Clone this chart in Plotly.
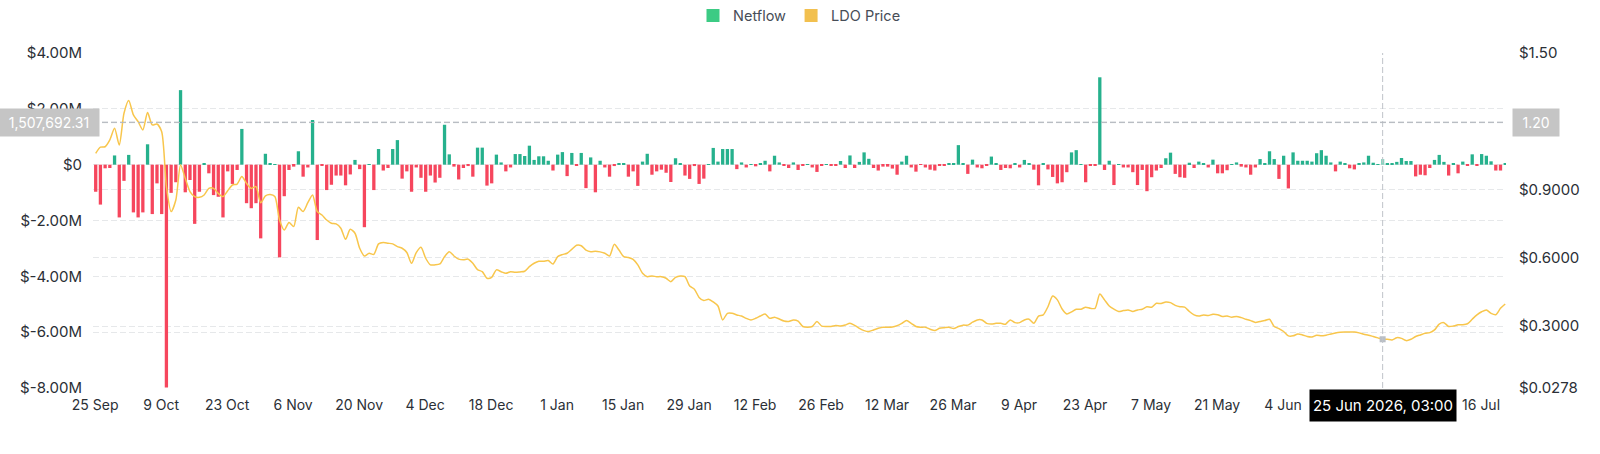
import plotly.graph_objects as go
import pandas as pd
import numpy as np

# ---------------- data ----------------
start_date = "2025-09-25 03:00"
n_days = 300

netflow_m = [
    -0.97, -1.43, -0.13, -0.12, 0.33, -1.89, -0.58, 0.35, -1.71, -1.89,
    -1.71, 0.73, -1.77, -0.67, -1.77, -7.98, -1.01, -0.63, 2.67, -0.99,
    -0.55, -2.12, -0.97, 0.04, -0.31, -1.09, -1.15, -1.89, -0.24, -0.69,
    -0.19, 1.28, -1.38, -1.56, -1.38, -2.64, 0.39, 0.06, 0.02, -3.32,
    -1.13, -0.19, -0.07, 0.48, -0.43, -0.10, 1.60, -2.70, -0.02, -0.91,
    -0.72, -0.39, -0.39, -0.74, -0.35, 0.17, -0.16, -2.24, 0.01, -0.91,
    0.56, -0.21, -0.12, 0.56, 0.88, -0.50, -0.24, -0.97, -0.10, -0.47,
    -0.97, -0.39, -0.64, -0.47, 1.43, 0.37, -0.07, -0.53, -0.12, -0.05,
    -0.43, 0.61, 0.61, -0.75, -0.67, 0.36, 0.08, -0.24, -0.10, 0.38,
    0.38, 0.31, 0.68, 0.17, 0.30, 0.30, 0.14, -0.21, 0.36, 0.45,
    -0.41, 0.42, -0.03, 0.42, -0.84, 0.26, -0.99, 0.14, -0.10, -0.43,
    -0.05, 0.06, 0.06, -0.43, -0.24, -0.76, 0.11, 0.39, -0.36, -0.24,
    -0.18, -0.29, -0.62, 0.23, 0.05, -0.39, -0.51, -0.05, -0.69, -0.50,
    0.02, 0.60, 0.11, 0.56, 0.56, 0.56, -0.16, 0.08, -0.10, 0.01,
    -0.06, 0.05, 0.14, -0.24, 0.32, 0.08, -0.02, -0.12, 0.08, -0.19,
    -0.03, 0.02, -0.10, -0.26, -0.02, 0.02, -0.02, -0.03, 0.13, -0.12,
    0.33, -0.12, 0.10, 0.44, 0.21, -0.12, -0.21, -0.07, -0.07, -0.14,
    -0.36, 0.11, 0.32, -0.10, -0.25, -0.01, -0.10, -0.18, -0.21, -0.03,
    -0.03, 0.03, 0.03, 0.70, 0.06, -0.33, 0.18, -0.10, -0.13, -0.03,
    0.29, 0.04, -0.19, -0.12, -0.13, 0.03, -0.10, 0.17, 0.05, -0.18,
    -0.74, 0.04, -0.17, -0.44, -0.67, -0.63, -0.27, 0.44, 0.52, 0.02,
    -0.63, -0.02, -0.02, 3.13, -0.19, 0.14, -0.73, 0.01, -0.10, -0.10,
    -0.27, -0.73, -0.19, -0.95, -0.45, -0.21, -0.12, 0.23, 0.43, -0.33,
    -0.45, -0.47, 0.07, -0.12, 0.11, 0.05, -0.10, 0.18, -0.31, -0.31,
    -0.20, 0.02, 0.08, -0.07, -0.10, -0.36, -0.10, 0.20, 0.05, 0.48,
    0.20, -0.51, 0.32, -0.85, 0.44, 0.14, 0.14, 0.14, 0.11, 0.41,
    0.52, 0.32, 0.08, -0.24, 0.11, 0.05, -0.13, -0.17, 0.03, 0.08,
    0.32, 0.07, 0.02, 0.20, 0.05, 0.05, 0.10, 0.24, 0.13, 0.13,
    -0.42, -0.36, -0.38, -0.12, 0.17, 0.35, 0.10, -0.39, 0.03, -0.31,
    0.11, -0.04, 0.37, -0.04, 0.38, 0.32, 0.12, -0.21, -0.21, 0.05,
]

ldo_price = [
    1.059, 1.086, 1.088, 1.118, 1.169, 1.096, 1.235, 1.291, 1.228, 1.198,
    1.162, 1.238, 1.184, 1.188, 1.154, 0.913, 0.803, 0.854, 1.008, 0.949,
    0.891, 0.869, 0.866, 0.876, 0.905, 0.905, 0.883, 0.869, 0.895, 0.920,
    0.924, 0.957, 0.927, 0.905, 0.913, 0.842, 0.872, 0.878, 0.869, 0.766,
    0.722, 0.755, 0.737, 0.822, 0.803, 0.842, 0.876, 0.803, 0.788, 0.766,
    0.752, 0.749, 0.730, 0.681, 0.725, 0.708, 0.642, 0.608, 0.620, 0.615,
    0.661, 0.667, 0.664, 0.661, 0.649, 0.642, 0.623, 0.576, 0.623, 0.646,
    0.598, 0.569, 0.569, 0.573, 0.605, 0.627, 0.608, 0.594, 0.591, 0.594,
    0.576, 0.548, 0.539, 0.510, 0.514, 0.547, 0.539, 0.532, 0.539, 0.536,
    0.538, 0.541, 0.561, 0.576, 0.585, 0.585, 0.588, 0.573, 0.605, 0.614,
    0.620, 0.637, 0.655, 0.653, 0.634, 0.627, 0.629, 0.626, 0.620, 0.608,
    0.659, 0.634, 0.605, 0.601, 0.593, 0.569, 0.532, 0.517, 0.520, 0.517,
    0.517, 0.510, 0.495, 0.514, 0.520, 0.517, 0.476, 0.462, 0.426, 0.412,
    0.418, 0.406, 0.388, 0.327, 0.356, 0.356, 0.349, 0.344, 0.334, 0.327,
    0.334, 0.344, 0.353, 0.334, 0.339, 0.331, 0.322, 0.320, 0.327, 0.322,
    0.298, 0.295, 0.298, 0.320, 0.300, 0.298, 0.298, 0.302, 0.300, 0.305,
    0.312, 0.303, 0.290, 0.280, 0.276, 0.283, 0.290, 0.295, 0.295, 0.296,
    0.302, 0.312, 0.324, 0.312, 0.298, 0.295, 0.295, 0.286, 0.280, 0.290,
    0.293, 0.295, 0.289, 0.298, 0.304, 0.304, 0.317, 0.327, 0.327, 0.312,
    0.309, 0.312, 0.312, 0.308, 0.327, 0.315, 0.315, 0.327, 0.330, 0.312,
    0.344, 0.349, 0.385, 0.432, 0.415, 0.375, 0.353, 0.362, 0.374, 0.374,
    0.383, 0.378, 0.378, 0.441, 0.415, 0.388, 0.374, 0.364, 0.368, 0.371,
    0.364, 0.371, 0.374, 0.385, 0.383, 0.400, 0.399, 0.406, 0.403, 0.391,
    0.385, 0.383, 0.364, 0.349, 0.344, 0.349, 0.346, 0.352, 0.350, 0.342,
    0.344, 0.339, 0.342, 0.337, 0.330, 0.324, 0.316, 0.320, 0.324, 0.330,
    0.298, 0.289, 0.276, 0.257, 0.257, 0.265, 0.261, 0.254, 0.252, 0.260,
    0.257, 0.260, 0.265, 0.270, 0.273, 0.274, 0.274, 0.274, 0.270, 0.264,
    0.260, 0.254, 0.248, 0.242, 0.242, 0.239, 0.249, 0.246, 0.236, 0.242,
    0.254, 0.261, 0.268, 0.271, 0.283, 0.309, 0.315, 0.298, 0.300, 0.306,
    0.306, 0.310, 0.330, 0.349, 0.363, 0.371, 0.356, 0.350, 0.378, 0.397,
]

# ticks at 18 Jun and 2 Jul sit under the cursor date box, so they are not labelled
x_tick_dates = ["2025-09-25", "2025-10-09", "2025-10-23", "2025-11-06", "2025-11-20",
                "2025-12-04", "2025-12-18", "2026-01-01", "2026-01-15", "2026-01-29",
                "2026-02-12", "2026-02-26", "2026-03-12", "2026-03-26", "2026-04-09",
                "2026-04-23", "2026-05-07", "2026-05-21", "2026-06-04", "2026-07-16"]
x_tick_text = ["25 Sep", "9 Oct", "23 Oct", "6 Nov", "20 Nov", "4 Dec", "18 Dec", "1 Jan",
               "15 Jan", "29 Jan", "12 Feb", "26 Feb", "12 Mar", "26 Mar", "9 Apr", "23 Apr",
               "7 May", "21 May", "4 Jun", "16 Jul"]

y_left_ticks = [4e6, 2e6, 0, -2e6, -4e6, -6e6, -8e6]
y_left_text = ["$4.00M", "$2.00M", "$0", "$-2.00M", "$-4.00M", "$-6.00M", "$-8.00M"]
y_right_ticks = [1.5, 1.2, 0.9, 0.6, 0.3, 0.0278]
y_right_text = ["$1.50", "", "$0.9000", "$0.6000", "$0.3000", "$0.0278"]

cursor_index = 273
cursor_label = "25 Jun 2026, 03:00"
cursor_left_value = 1507692.31
cursor_left_text = "1,507,692.31"
cursor_right_text = "1.20"

# ---------------- styling ----------------
GREEN = "#26B18D"
RED = "#F6465D"
YELLOW = "#F8C64C"
GRID = "#E6E8EA"
FAMILY = "Inter, Roboto, sans-serif"
X_FONT = dict(family=FAMILY, size=14, color="#2B2F36")
Y_FONT = dict(family=FAMILY, size=15, color="#2B2F36")

dates = pd.date_range(start_date, periods=n_days, freq="D")
netflow = np.array(netflow_m) * 1e6
bar_colors = [GREEN if v >= 0 else RED for v in netflow]
bar_opacity = [0.55 if i == cursor_index else 1.0 for i in range(n_days)]

fig = go.Figure()

fig.add_trace(go.Bar(
    x=dates, y=netflow, marker=dict(color=bar_colors, opacity=bar_opacity, line=dict(width=0)),
    showlegend=False, hoverinfo="skip",
))

fig.add_trace(go.Scatter(
    x=dates, y=ldo_price, yaxis="y2", mode="lines",
    line=dict(color=YELLOW, width=1.5, shape="spline", smoothing=0.7),
    showlegend=False, hoverinfo="skip",
))

fig.add_trace(go.Scatter(
    x=[dates[cursor_index]], y=[ldo_price[cursor_index]], yaxis="y2", mode="markers",
    marker=dict(size=6, color="#B9BEC5", symbol="square"), showlegend=False, hoverinfo="skip",
))

# legend entries
fig.add_trace(go.Scatter(x=[None], y=[None], mode="markers", name="Netflow",
                         marker=dict(symbol="square", size=13, color="#3CCB84")))
fig.add_trace(go.Scatter(x=[None], y=[None], mode="markers", name="LDO Price",
                         marker=dict(symbol="square", size=13, color="#F2C04F")))

x_start = pd.Timestamp("2025-09-24 13:15")
x_end = pd.Timestamp("2026-07-21 07:00")

fig.update_layout(
    width=1600, height=454,
    margin=dict(l=93, r=94, t=53, b=66, pad=0, autoexpand=False),
    paper_bgcolor="white", plot_bgcolor="white",
    barmode="overlay", bargap=0.3,
    font=X_FONT,
    showlegend=True,
    legend=dict(orientation="h", x=0.5, xanchor="center",
                yref="container", y=1 - 15.5 / 454, yanchor="middle",
                font=dict(family=FAMILY, size=14.5, color="#474D57"),
                itemwidth=30, bgcolor="rgba(0,0,0,0)"),
    xaxis=dict(
        type="date", range=[x_start, x_end], showgrid=False, zeroline=False, showline=False,
        tickvals=pd.to_datetime(x_tick_dates), ticktext=x_tick_text, ticks="",
        ticklabelstandoff=7, tickfont=X_FONT,
    ),
    yaxis=dict(
        range=[-8e6, 4e6], tickvals=y_left_ticks, ticktext=y_left_text,
        showgrid=True, gridcolor=GRID, griddash="6px,3px", gridwidth=1,
        zeroline=False, showline=False, ticks="", ticklabelstandoff=10, tickfont=Y_FONT,
    ),
    yaxis2=dict(
        range=[0.0278, 1.5], tickvals=y_right_ticks, ticktext=y_right_text,
        overlaying="y", side="right",
        showgrid=True, gridcolor=GRID, griddash="6px,3px", gridwidth=1,
        zeroline=False, showline=False, ticks="", ticklabelstandoff=12, tickfont=Y_FONT,
    ),
)

# crosshair
fig.add_shape(type="line", xref="x", yref="paper", x0=dates[cursor_index], x1=dates[cursor_index],
              y0=0, y1=1, line=dict(color="#BFC3C9", width=1, dash="6px,3px"), layer="above")
fig.add_shape(type="line", xref="paper", yref="y", x0=0, x1=1, y0=cursor_left_value, y1=cursor_left_value,
              line=dict(color="#B4B8BE", width=1, dash="6px,3px"), layer="above")

fig.add_annotation(xref="paper", yref="y", x=0, y=cursor_left_value, xanchor="right", yanchor="middle",
                   xshift=7, text=cursor_left_text, showarrow=False,
                   font=dict(family=FAMILY, size=14, color="white"),
                   bgcolor="#C5C5C5", borderpad=0, width=100, height=27)
fig.add_annotation(xref="paper", yref="y", x=1, y=cursor_left_value, xanchor="left", yanchor="middle",
                   xshift=6, text=cursor_right_text, showarrow=False,
                   font=dict(family=FAMILY, size=14, color="white"),
                   bgcolor="#C5C5C5", borderpad=0, width=46, height=27)
fig.add_annotation(xref="x", yref="paper", x=dates[cursor_index], y=0, xanchor="center", yanchor="top",
                   yshift=-1, text=cursor_label, showarrow=False,
                   font=dict(family=FAMILY, size=15, color="white"),
                   bgcolor="#000000", borderpad=0, width=146, height=31)

fig.write_html("out.html")
